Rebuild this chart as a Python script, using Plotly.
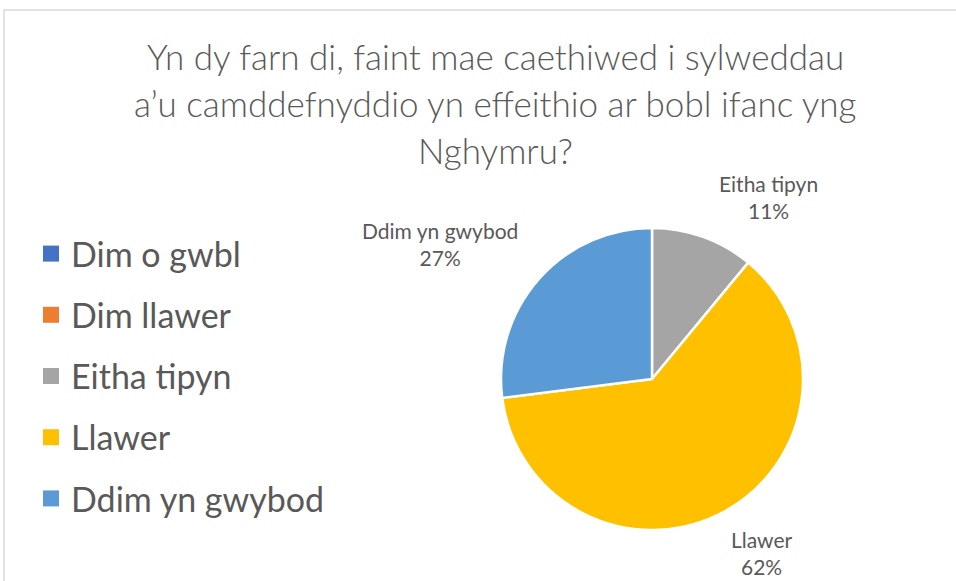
import plotly.graph_objects as go

# Data
categories = ["Dim o gwbl", "Dim llawer", "Eitha tipyn", "Llawer", "Ddim yn gwybod"]
percentages = [0, 0, 11, 62, 27]
colors = ["#4472C4", "#ED7D31", "#A5A5A5", "#FFC000", "#5B9BD5"]

title_lines = [
    "Yn dy farn di, faint mae caethiwed i sylweddau",
    "a’u camddefnyddio yn effeithio ar bobl ifanc yng",
    "Nghymru?",
]

W, H = 956, 581
GREY = "#595959"
FONT = "Lato"

fig = go.Figure()

# pie, own legend switched off so the entries can be spaced like the original
fig.add_trace(go.Pie(
    labels=categories,
    values=percentages,
    sort=False,
    direction="clockwise",
    rotation=0,
    textinfo="none",
    hoverinfo="label+percent",
    marker=dict(colors=colors, line=dict(color="white", width=2.5)),
    showlegend=False,
    domain=dict(x=[(652 - 151) / W, (652 + 151) / W],
                y=[(202 - 151) / H, (202 + 151) / H]),
))

# legend entries
for i, (cat, col) in enumerate(zip(categories, colors)):
    fig.add_trace(go.Scatter(
        x=[None], y=[None], mode="markers", name=cat,
        marker=dict(symbol="square", size=16, color=col),
        legendgroup=f"g{i}", showlegend=True, hoverinfo="skip",
    ))

# data labels (only non-zero slices)
label_pos = {"Eitha tipyn": (768, 197), "Llawer": (762, 553), "Ddim yn gwybod": (440, 244)}
annotations = []
for cat, pct in zip(categories, percentages):
    if pct == 0:
        continue
    x, y = label_pos[cat]
    annotations.append(dict(
        x=x / W, y=1 - y / H, xref="paper", yref="paper",
        text=f"{cat}<br>{pct}%", showarrow=False,
        font=dict(family=FONT, size=21, color=GREY),
        align="center", xanchor="center", yanchor="middle",
    ))

# title, one annotation per line for spacing
for i, line in enumerate(title_lines):
    annotations.append(dict(
        x=495 / W, y=1 - (56 + 47 * i) / H, xref="paper", yref="paper",
        text=line, showarrow=False,
        font=dict(family=FONT, size=35, color=GREY, weight=300),
        xanchor="center", yanchor="middle",
    ))

fig.update_layout(
    width=W, height=H,
    margin=dict(l=0, r=0, t=0, b=0),
    paper_bgcolor="white", plot_bgcolor="white",
    xaxis=dict(visible=False), yaxis=dict(visible=False),
    legend=dict(
        x=31 / W, y=1 - 225 / H, xanchor="left", yanchor="top",
        font=dict(family=FONT, size=34, color=GREY),
        tracegroupgap=14, itemwidth=30,
        itemclick=False, itemdoubleclick=False,
    ),
    annotations=annotations,
    shapes=[dict(
        type="rect", xref="paper", yref="paper",
        x0=4 / W, x1=1.01, y0=-0.01, y1=1 - 10 / H,
        line=dict(color="#D9D9D9", width=1.5),
    )],
)

fig.write_html("out.html", config={"displayModeBar": False},
               post_script="document.body.style.margin='0';")
